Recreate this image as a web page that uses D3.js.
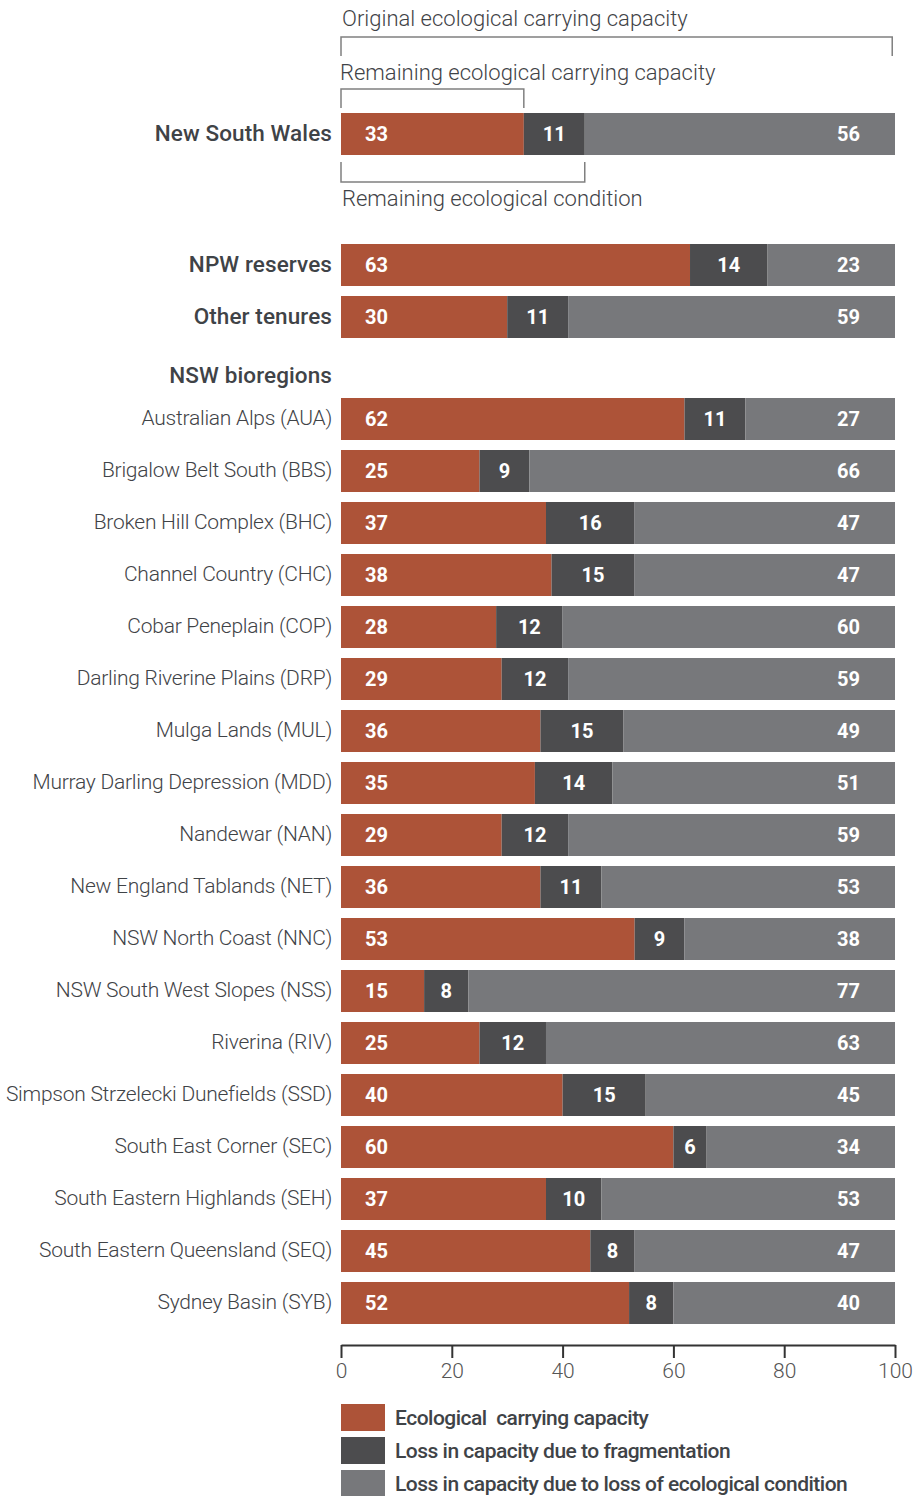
<!DOCTYPE html>
<html>
<head>
<meta charset="utf-8">
<script src="https://cdn.jsdelivr.net/npm/d3@7/dist/d3.min.js"></script>
<style>
  html, body { margin: 0; padding: 0; background: #fff; }
  svg { display: block; }
  text { font-family: "Roboto", "DejaVu Sans Condensed", sans-serif; white-space: pre; }
</style>
</head>
<body>
<svg id="chart" width="913" height="1496"></svg>
<script>
// Share of original ecological carrying capacity (%)
const stateName = ["New South Wales"];
const stateCapacity = [33];
const stateFragmentation = [11];
const stateCondition = [56];

const tenures = ["NPW reserves", "Other tenures"];
const tenureCapacity = [63, 30];
const tenureFragmentation = [14, 11];
const tenureCondition = [23, 59];

const bioregions = [
  "Australian Alps (AUA)", "Brigalow Belt South (BBS)", "Broken Hill Complex (BHC)",
  "Channel Country (CHC)", "Cobar Peneplain (COP)", "Darling Riverine Plains (DRP)",
  "Mulga Lands (MUL)", "Murray Darling Depression (MDD)", "Nandewar (NAN)",
  "New England Tablands (NET)", "NSW North Coast (NNC)", "NSW South West Slopes (NSS)",
  "Riverina (RIV)", "Simpson Strzelecki Dunefields (SSD)", "South East Corner (SEC)",
  "South Eastern Highlands (SEH)", "South Eastern Queensland (SEQ)", "Sydney Basin (SYB)"
];
const bioCapacity      = [62, 25, 37, 38, 28, 29, 36, 35, 29, 36, 53, 15, 25, 40, 60, 37, 45, 52];
const bioFragmentation = [11,  9, 16, 15, 12, 12, 15, 14, 12, 11,  9,  8, 12, 15,  6, 10,  8,  8];
const bioCondition     = [27, 66, 47, 47, 60, 59, 49, 51, 59, 53, 38, 77, 63, 45, 34, 53, 47, 40];

const axisTicks = [0, 20, 40, 60, 80, 100];

const seriesNames = [
  "Ecological  carrying capacity",
  "Loss in capacity due to fragmentation",
  "Loss in capacity due to loss of ecological condition"
];
const seriesColors = ["#ad5338", "#4c4c4e", "#77787b"];

const svg = d3.select("#chart");
const x = d3.scaleLinear().domain([0, 100]).range([341, 895]);
const textColor = "#3f4347";
const labelX = 332;

function rows(names, a, b, c) {
  return names.map((n, i) => ({ name: n, values: [a[i], b[i], c[i]] }));
}

const stateRows = rows(stateName, stateCapacity, stateFragmentation, stateCondition);
const tenureRows = rows(tenures, tenureCapacity, tenureFragmentation, tenureCondition);
const bioRows = rows(bioregions, bioCapacity, bioFragmentation, bioCondition);

const gap = 10 / 52;
const yState = d3.scaleBand().domain(stateName).range([113, 155]);
const yTenure = d3.scaleBand().domain(tenures).range([244, 338]).paddingInner(gap).paddingOuter(0);
const yBio = d3.scaleBand().domain(bioregions).range([398, 1324]).paddingInner(gap).paddingOuter(0);

function drawGroup(data, y, bold) {
  const g = svg.append("g");
  data.forEach(d => {
    const row = g.append("g");
    let acc = 0;
    const segs = d.values.map((v, i) => {
      const s = { i, v, x0: acc, x1: acc + v };
      acc += v;
      return s;
    });
    row.selectAll("rect").data(segs).join("rect")
      .attr("x", s => x(s.x0))
      .attr("width", s => x(s.x1) - x(s.x0))
      .attr("y", y(d.name))
      .attr("height", y.bandwidth())
      .attr("fill", s => seriesColors[s.i]);

    const cy = y(d.name) + y.bandwidth() / 2;
    row.selectAll("text.val").data(segs).join("text")
      .attr("class", "val")
      .attr("x", s => s.i === 0 ? x(s.x0) + 24 : s.i === 1 ? (x(s.x0) + x(s.x1)) / 2 : x(s.x1) - 35)
      .attr("y", cy + 7)
      .attr("text-anchor", s => s.i === 0 ? "start" : s.i === 1 ? "middle" : "end")
      .attr("fill", "#fff")
      .attr("font-size", 20)
      .attr("font-weight", "bold")
      .text(s => s.v);

    g.append("text")
      .attr("x", labelX)
      .attr("y", cy + (bold ? 7 : 6))
      .attr("text-anchor", "end")
      .attr("fill", textColor)
      .attr("font-size", bold ? 22.5 : 21)
      .attr("font-weight", bold ? 500 : 300)
      .attr("letter-spacing", bold ? 0.1 : -0.25)
      .text(d.name);
  });
}

drawGroup(stateRows, yState, true);
drawGroup(tenureRows, yTenure, true);

svg.append("text")
  .attr("x", labelX).attr("y", 383)
  .attr("text-anchor", "end")
  .attr("fill", textColor)
  .attr("font-size", 22.5)
  .attr("font-weight", 500)
  .attr("letter-spacing", 0.1)
  .text("NSW bioregions");

drawGroup(bioRows, yBio, false);

// Brackets describing the New South Wales bar
const bracketColor = "#808080";
function bracket(v0, v1, yLine, yEnd) {
  svg.append("path")
    .attr("d", `M${x(v0)},${yEnd}V${yLine}H${x(v1)}V${yEnd}`)
    .attr("fill", "none")
    .attr("stroke", bracketColor)
    .attr("stroke-width", 1.5);
}
function note(t, xx, yy) {
  svg.append("text").attr("x", xx).attr("y", yy)
    .attr("fill", textColor).attr("font-size", 22).attr("font-weight", 300)
    .attr("letter-spacing", 0).text(t);
}
const s0 = stateRows[0].values;
note("Original ecological carrying capacity", x(0) + 1, 26);
bracket(0, 100 - 0.5, 37, 56);
note("Remaining ecological carrying capacity", x(0) - 1, 80);
bracket(0, s0[0], 89, 108);
bracket(0, s0[0] + s0[1], 182, 162);
note("Remaining ecological condition", x(0) + 1, 206);

// Axis
const axis = d3.axisBottom(x).tickValues(axisTicks).tickSize(13).tickSizeOuter(0);
const ag = svg.append("g").attr("transform", "translate(0,1345)").call(axis);
ag.select(".domain").attr("stroke", "#333").attr("stroke-width", 2);
ag.selectAll(".tick line").attr("stroke", "#333").attr("stroke-width", 2);
ag.selectAll(".tick text")
  .attr("fill", "#555")
  .attr("font-size", 21)
  .attr("font-weight", 300)
  .attr("dy", 0)
  .attr("y", 33)
  .style("font-family", "Roboto, sans-serif");

// Legend
const lg = svg.append("g");
seriesNames.forEach((n, i) => {
  const yy = 1404 + i * 33;
  lg.append("rect").attr("x", 341).attr("y", yy).attr("width", 44).attr("height", 27)
    .attr("fill", seriesColors[i]);
  lg.append("text").attr("x", 395).attr("y", yy + 21)
    .attr("fill", textColor).attr("font-size", 21).attr("font-weight", 500)
    .attr("letter-spacing", -0.5)
    .text(n);
});
</script>
</body>
</html>
